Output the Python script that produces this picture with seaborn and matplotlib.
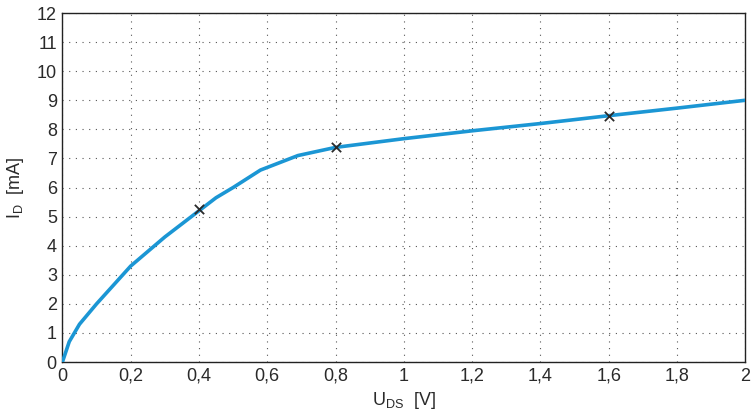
import numpy as np
import pandas as pd
import seaborn as sns
import matplotlib
matplotlib.use("Agg")
import matplotlib.pyplot as plt
from matplotlib.ticker import FuncFormatter

# curve
u_ds = [0.0, 0.02, 0.05, 0.1, 0.2, 0.3, 0.4, 0.45, 0.5, 0.58, 0.69, 0.8, 1.0, 1.2, 1.4, 1.6, 1.8, 2.0]
i_d = [0.0, 0.7, 1.3, 2.0, 3.3, 4.3, 5.2, 5.65, 6.0, 6.6, 7.1, 7.38, 7.68, 7.95, 8.2, 8.47, 8.73, 9.0]

# marked operating points
mark_u = [0.4, 0.8, 1.6]
mark_i = [5.27, 7.38, 8.47]

sns.set_theme(style="white")
plt.rcParams['font.family'] = ['Liberation Sans', 'DejaVu Sans']

fig, ax = plt.subplots(figsize=(7.52, 4.2), dpi=100)
fig.subplots_adjust(left=0.083, right=0.991, top=0.969, bottom=0.138)

df = pd.DataFrame({"u": u_ds, "i": i_d})
sns.lineplot(data=df, x="u", y="i", ax=ax, color="#1b96d4", linewidth=2.6, zorder=3)
sns.scatterplot(x=mark_u, y=mark_i, ax=ax, marker="x", color="#2a2a2a", s=45,
                linewidth=1.3, zorder=4)

ax.set_xlim(0, 2)
ax.set_ylim(0, 12)
ax.set_xticks(np.arange(0, 2.01, 0.2))
ax.set_yticks(range(0, 13))
ax.xaxis.set_major_formatter(FuncFormatter(lambda v, p: ("%g" % round(v, 1)).replace(".", ",")))
ax.grid(True, linestyle=(0, (1, 5)), color="#555555", linewidth=0.8)
for s in ax.spines.values():
    s.set_color("#222222")
    s.set_linewidth(1.0)
ax.tick_params(axis="both", labelsize=13, colors="#2a2a2a", length=0, pad=4)
ax.set_xlabel("U$_\\mathregular{DS}$  [V]", fontsize=13, color="#2a2a2a", labelpad=4)
ax.set_ylabel("I$_\\mathregular{D}$  [mA]", fontsize=13, color="#2a2a2a", labelpad=8)

fig.savefig("out.png", dpi=100)
